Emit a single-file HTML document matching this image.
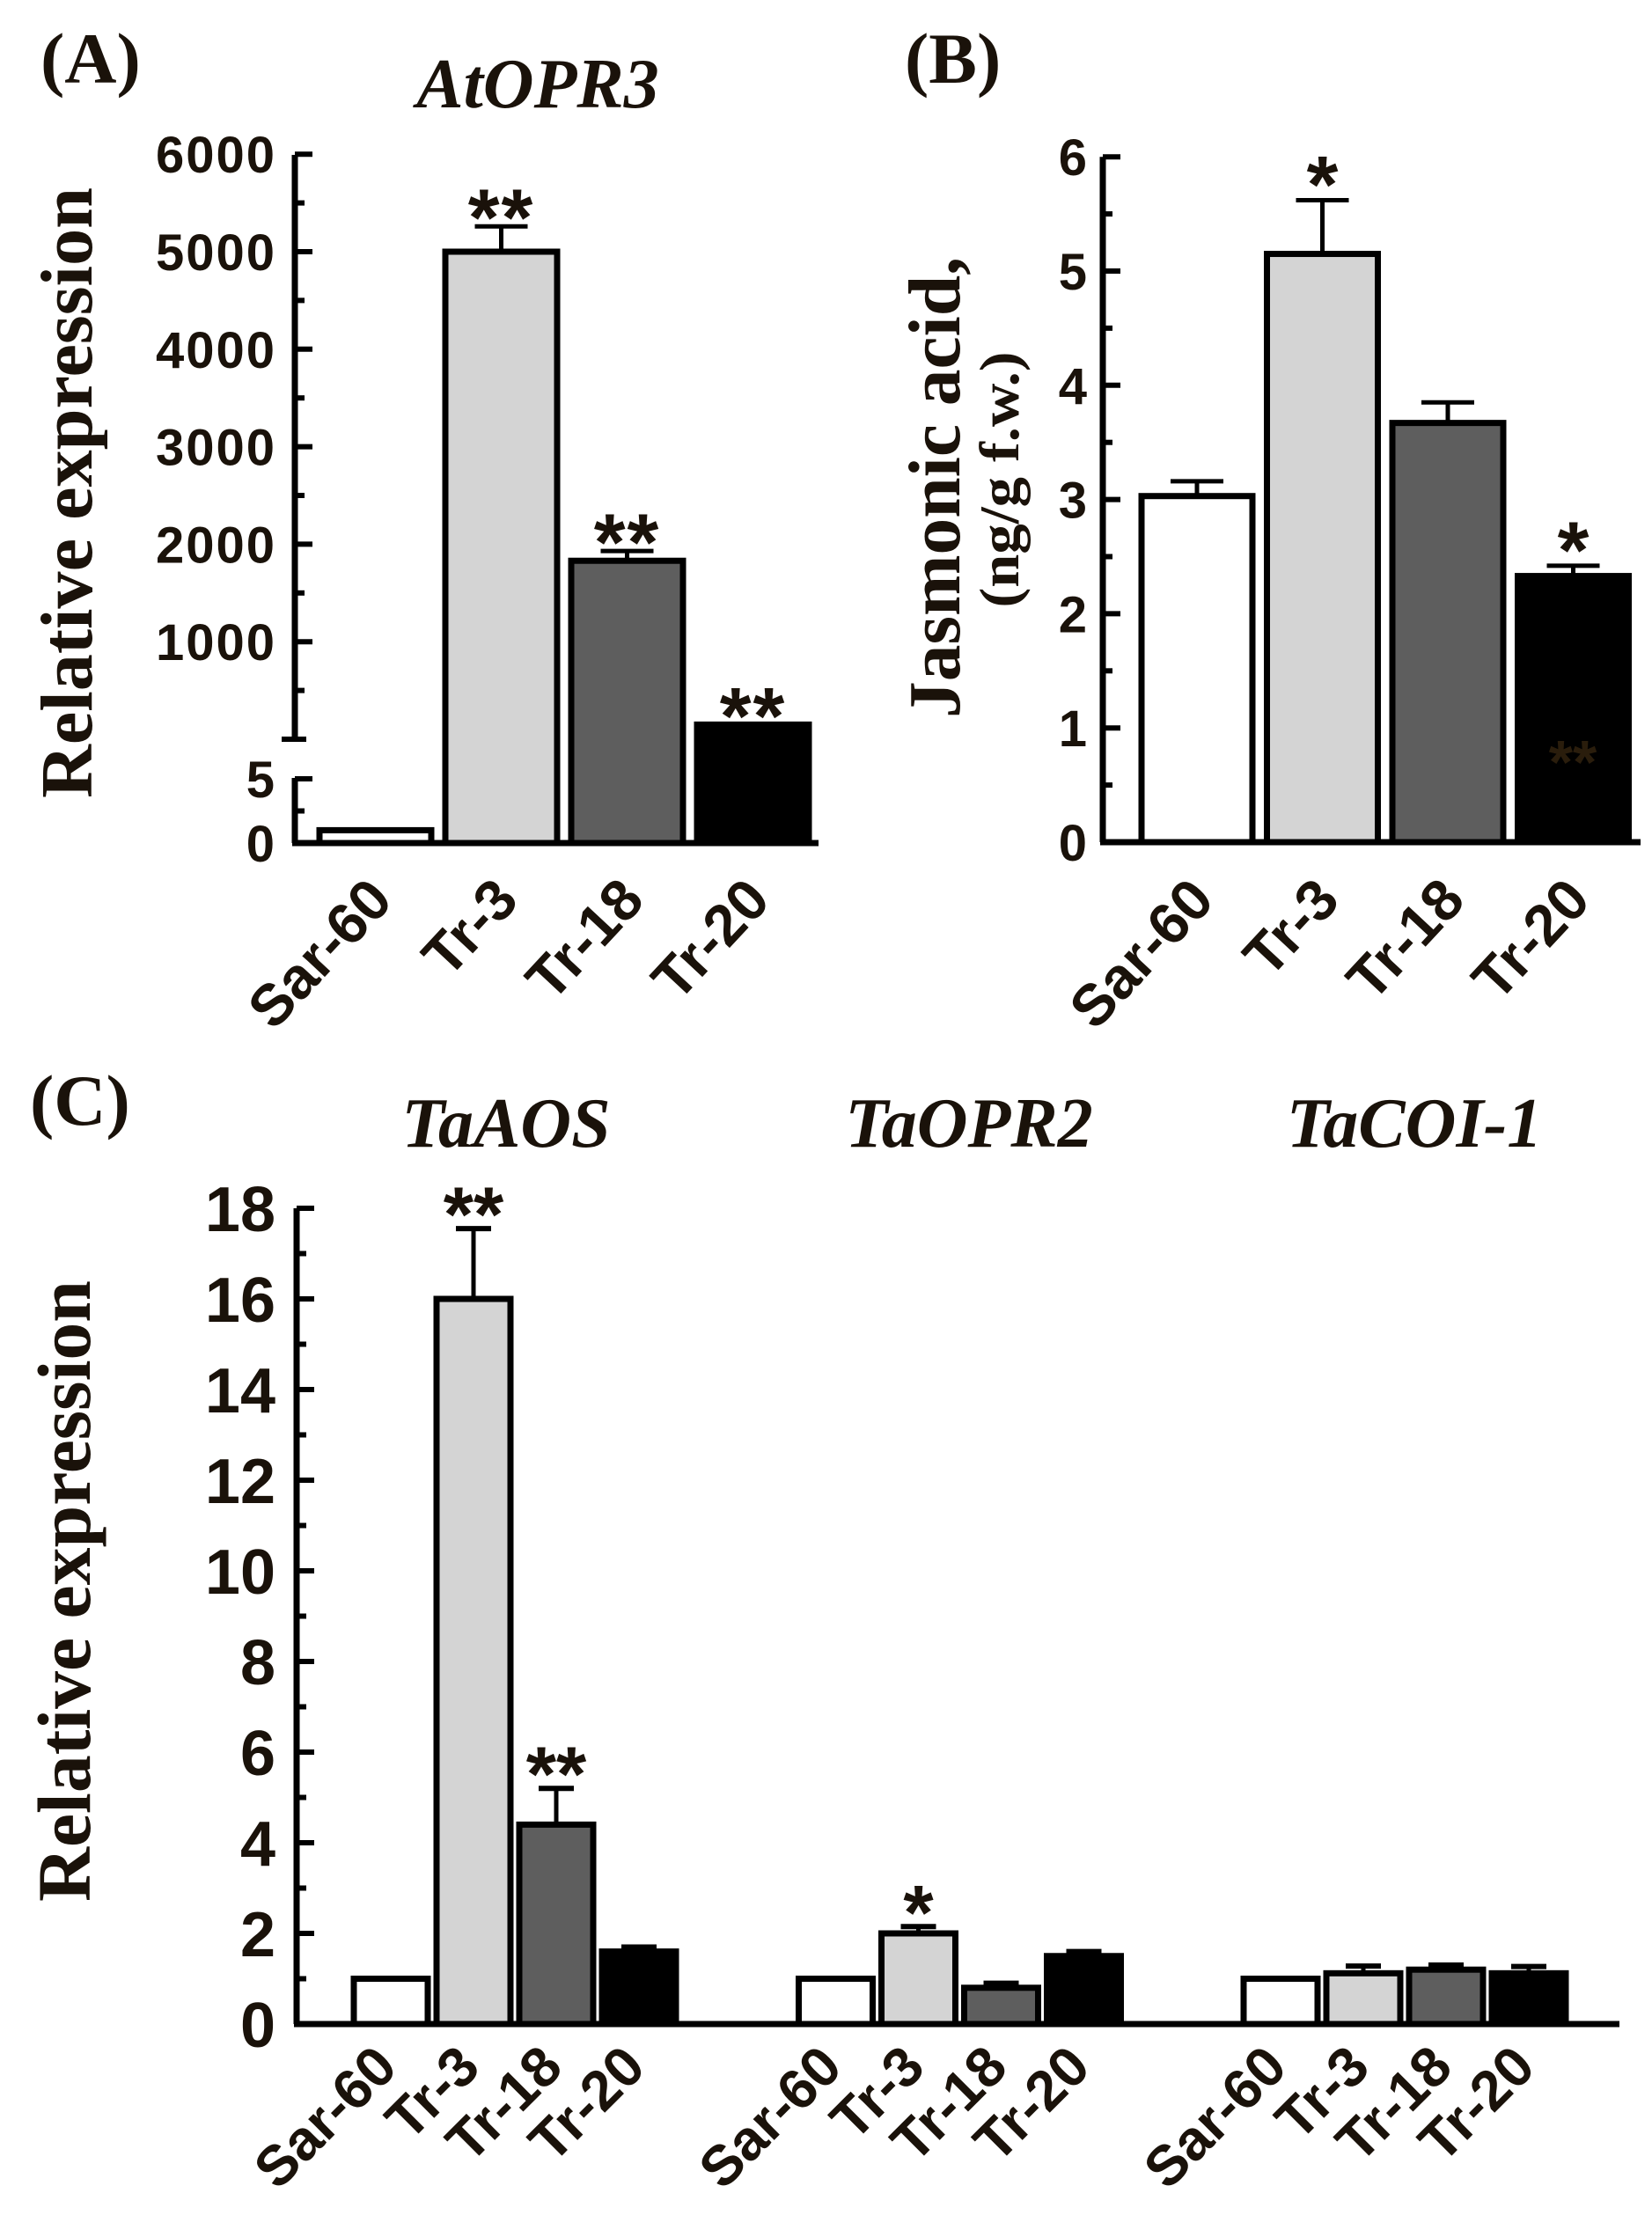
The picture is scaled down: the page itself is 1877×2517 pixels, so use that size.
<!DOCTYPE html>
<html><head><meta charset="utf-8"><style>
html,body{margin:0;padding:0;background:#fff}
svg{display:block}
.tk{font-family:"Liberation Sans",sans-serif;font-weight:bold;fill:#1a120a}
.ser{font-family:"Liberation Serif",serif;font-weight:bold;fill:#1a120a}
</style></head><body>
<svg id="fig" width="1877" height="2517" viewBox="0 0 1877 2517" xmlns="http://www.w3.org/2000/svg">
<text class="ser" x="46" y="94" font-size="82">(A)</text>
<text class="ser" x="1028" y="94" font-size="82">(B)</text>
<text class="ser" x="34" y="1278" font-size="82">(C)</text>
<text class="ser" x="611" y="122" font-size="80" font-style="italic" text-anchor="middle">AtOPR3</text>
<text class="ser" x="575" y="1303" font-size="80" font-style="italic" text-anchor="middle">TaAOS</text>
<text class="ser" x="1101" y="1303" font-size="80" font-style="italic" text-anchor="middle">TaOPR2</text>
<text class="ser" x="1607" y="1303" font-size="80" font-style="italic" text-anchor="middle">TaCOI-1</text>
<text class="ser" transform="translate(104,560) rotate(-90)" font-size="84" text-anchor="middle" textLength="694" lengthAdjust="spacingAndGlyphs">Relative expression</text>
<text class="ser" transform="translate(1090,554) rotate(-90)" font-size="84" text-anchor="middle" textLength="524" lengthAdjust="spacingAndGlyphs">Jasmonic acid,</text>
<text class="ser" transform="translate(1157,545) rotate(-90)" font-size="64" text-anchor="middle" textLength="291" lengthAdjust="spacingAndGlyphs">(ng/g f.w.)</text>
<text class="ser" transform="translate(102,1808) rotate(-90)" font-size="86" text-anchor="middle" textLength="706" lengthAdjust="spacingAndGlyphs">Relative expression</text>
<g id="marks"></g>
</svg>
<script>
const cats = ["Sar-60","Tr-3","Tr-18","Tr-20"];
const fills = ["#ffffff","#d4d4d4","#5e5e5e","#000000"];
// Panel A
const aValues = [1, 5000, 1830, 150];
const aErrors = [0, 5260, 1930, 0];
const aStars = ["", "**", "**", "**"];
const aTicksUpper = [1000,2000,3000,4000,5000,6000];
const aTicksLower = [0,5];
// Panel B
const bValues = [3.03, 5.15, 3.67, 2.33];
const bErrors = [3.16, 5.62, 3.85, 2.42];
const bStars = ["", "*", "", "*"];
const bTicks = [0,1,2,3,4,5,6];
// Panel C
const cGenes = ["TaAOS","TaOPR2","TaCOI-1"];
const cAOS = [1.0, 16.0, 4.4, 1.6];
const cAOSerr = [1.0, 17.55, 5.2, 1.7];
const cOPR2 = [1.0, 2.0, 0.8, 1.5];
const cOPR2err = [1.0, 2.15, 0.9, 1.6];
const cCOI = [1.0, 1.12, 1.2, 1.12];
const cCOIerr = [1.0, 1.28, 1.3, 1.27];
const cStarsAOS = ["", "**", "**", ""];
const cStarsOPR2 = ["", "*", "", ""];
const cStarsCOI = ["", "", "", ""];
const cTicks = [0,2,4,6,8,10,12,14,16,18];

const NS = "http://www.w3.org/2000/svg";
const G = document.getElementById("marks");
function mk(tag, attrs){const e=document.createElementNS(NS,tag);for(const k in attrs)e.setAttribute(k,attrs[k]);G.appendChild(e);return e;}
const INK="#000";

// ---------- Panel A ----------
const aX0=335, aBase=958;
function ayA(v){ return v<=5 ? aBase - v*14.6 : 840 - v*0.1108; }
function axA(i){ return 360 + i*143; }
const aW=133;
let e;
e=mk("line",{x1:aX0,y1:176,x2:aX0,y2:840,stroke:INK,"stroke-width":7});


e=mk("line",{x1:aX0-15,y1:840,x2:aX0+13,y2:840,stroke:INK,"stroke-width":6});


e=mk("line",{x1:aX0,y1:884,x2:aX0,y2:aBase,stroke:INK,"stroke-width":7});


e=mk("line",{x1:aX0-3,y1:aBase,x2:930,y2:aBase,stroke:INK,"stroke-width":7});


for(let v=500; v<=6000; v+=500){
  const y=ayA(v), major=v%1000===0;
  e=mk("line",{x1:aX0,y1:y,x2:aX0+(major?20:11),y2:y,stroke:INK,"stroke-width":6});
  
  
}
[2.5,5].forEach(v=>{const y=ayA(v);
  e=mk("line",{x1:aX0,y1:y,x2:aX0+(v===5?20:11),y2:y,stroke:INK,"stroke-width":6});
  
  });
aTicksUpper.concat(aTicksLower).forEach(v=>{
  e=mk("text",{class:"tk",x:314,y:ayA(v)+21,"font-size":58,"text-anchor":"end","letter-spacing":"2"});
  e.textContent=v;
  
  
});
cats.forEach((c,i)=>{
  const x=axA(i), top=ayA(aValues[i]);
  if(aErrors[i]>aValues[i]){
    const ey=ayA(aErrors[i]);
    e=mk("line",{x1:x+aW/2,y1:top,x2:x+aW/2,y2:ey,stroke:INK,"stroke-width":5});
    
    
    e=mk("line",{x1:x+aW/2-30,y1:ey,x2:x+aW/2+30,y2:ey,stroke:INK,"stroke-width":5});
    
    
  }
  e=mk("rect",{x:x+3,y:top,width:aW-6,height:aBase-top,fill:fills[i],stroke:INK,"stroke-width":7});
  
  
  if(aStars[i]){
    const sy=(aErrors[i]>aValues[i]?ayA(aErrors[i]):top);
    e=mk("text",{class:"tk",x:x+aW/2,y:sy+22,"font-size":92,"text-anchor":"middle","letter-spacing":"2"});
    e.textContent=aStars[i];
    
    
  }
  e=mk("text",{class:"tk",transform:`translate(${x+aW/2+22},${1025}) rotate(-47)`,"font-size":66,"text-anchor":"end"});
  e.textContent=c;
  
  
});

// ---------- Panel B ----------
const bX0=1253, bBase=957;
function ayB(v){ return bBase - v*129.8; }
function axB(i){ return 1294 + i*142.5; }
const bW=132;
e=mk("line",{x1:bX0,y1:ayB(6),x2:bX0,y2:bBase,stroke:INK,"stroke-width":7});


e=mk("line",{x1:bX0-3,y1:bBase,x2:1864,y2:bBase,stroke:INK,"stroke-width":7});


for(let v=0.5; v<=6; v+=0.5){
  const y=ayB(v), major=Math.abs(v-Math.round(v))<1e-9;
  e=mk("line",{x1:bX0,y1:y,x2:bX0+(major?20:11),y2:y,stroke:INK,"stroke-width":6});
  
  
}
bTicks.forEach(v=>{
  e=mk("text",{class:"tk",x:1235,y:ayB(v)+21,"font-size":58,"text-anchor":"end"});
  e.textContent=v;
  
  
});
cats.forEach((c,i)=>{
  const x=axB(i), top=ayB(bValues[i]);
  const ey=ayB(bErrors[i]);
  e=mk("line",{x1:x+bW/2,y1:top,x2:x+bW/2,y2:ey,stroke:INK,"stroke-width":5});
  
  
  e=mk("line",{x1:x+bW/2-30,y1:ey,x2:x+bW/2+30,y2:ey,stroke:INK,"stroke-width":5});
  
  
  e=mk("rect",{x:x+3,y:top,width:bW-6,height:bBase-top,fill:fills[i],stroke:INK,"stroke-width":7});
  
  
  if(bStars[i]){
    e=mk("text",{class:"tk",x:x+bW/2,y:ey+14,"font-size":92,"text-anchor":"middle"});
    e.textContent=bStars[i];
    
    
  }
  e=mk("text",{class:"tk",transform:`translate(${x+bW/2+22},${1025}) rotate(-47)`,"font-size":66,"text-anchor":"end"});
  e.textContent=c;
  
  
});
e=mk("text",{class:"tk",x:1787,y:890,"font-size":70,"text-anchor":"middle",style:"fill:#2a1d0c"});
e.textContent="**";



// ---------- Panel C ----------
const cX0=337, cBase=2300;
function ayC(v){ return cBase - v*51.5; }
function axC(g,i){ return 399 + g*505.5 + i*94; }
const cW=90;
e=mk("line",{x1:cX0,y1:ayC(18),x2:cX0,y2:cBase,stroke:INK,"stroke-width":7});


e=mk("line",{x1:cX0-3,y1:cBase,x2:1840,y2:cBase,stroke:INK,"stroke-width":7});


for(let v=1; v<=18; v++){
  const y=ayC(v), major=v%2===0;
  e=mk("line",{x1:cX0,y1:y,x2:cX0+(major?20:11),y2:y,stroke:INK,"stroke-width":6});
  
  
}
cTicks.forEach(v=>{
  e=mk("text",{class:"tk",x:313,y:ayC(v)+26,"font-size":72,"text-anchor":"end"});
  e.textContent=v;
  
  
});
const cVals=[cAOS,cOPR2,cCOI], cErrs=[cAOSerr,cOPR2err,cCOIerr], cSt=[cStarsAOS,cStarsOPR2,cStarsCOI];
cGenes.forEach((gname,g)=>{
  cats.forEach((c,i)=>{
    const x=axC(g,i), top=ayC(cVals[g][i]);
    if(cErrs[g][i]>cVals[g][i]){
      const ey=ayC(cErrs[g][i]);
      e=mk("line",{x1:x+cW/2,y1:top,x2:x+cW/2,y2:ey,stroke:INK,"stroke-width":5});
      
      
      e=mk("line",{x1:x+cW/2-20,y1:ey,x2:x+cW/2+20,y2:ey,stroke:INK,"stroke-width":6});
      
      
    }
    e=mk("rect",{x:x+3,y:top,width:cW-6,height:cBase-top,fill:fills[i],stroke:INK,"stroke-width":7});
    
    
    if(cSt[g][i]){
      const ey=ayC(Math.max(cErrs[g][i],cVals[g][i]));
      e=mk("text",{class:"tk",x:x+cW/2,y:ey+14,"font-size":88,"text-anchor":"middle"});
      e.textContent=cSt[g][i];
      
      
    }
    e=mk("text",{class:"tk",transform:`translate(${x+cW/2+10},${2352}) rotate(-45)`,"font-size":64,"text-anchor":"end"});
    e.textContent=c;
    
    
  });
});
</script>
</body></html>
